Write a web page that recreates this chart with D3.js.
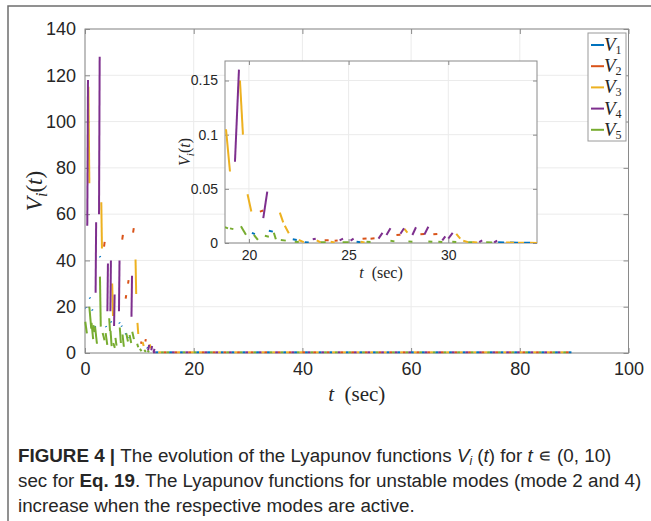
<!DOCTYPE html>
<html>
<head>
<meta charset="utf-8">
<script src="https://cdn.jsdelivr.net/npm/d3@7"></script>
<style>
body { margin: 0; background: #fff; }
svg { display: block; }
text { font-family: "Liberation Sans", Arial, Helvetica, sans-serif; fill: #262626; }
.tex { font-family: "Liberation Serif", "Times New Roman", serif; }
</style>
</head>
<body>
<svg id="fig" width="651" height="521"></svg>
<script>
// series names and tick values
var series = ['V1', 'V2', 'V3', 'V4', 'V5']
var xTicks = [0, 20, 40, 60, 80, 100]
var yTicks = [0, 20, 40, 60, 80, 100, 120, 140]
var insetXTicks = [20, 25, 30]
var insetYTicks = [0, 0.05, 0.1, 0.15]

// main plot: each segment is [t0, v0, t1, v1] while that mode is active
var v1Main = [[0.12, 19.6, 0.22, 19.4], [0.85, 24, 0.95, 23.6], [1.3, 18.8, 1.4, 18.4], [1.8, 11.6, 1.9, 11.2],
  [2.72, 41.8, 2.82, 41.4], [3.82, 11.6, 3.92, 11.2], [4.75, 13.6, 4.85, 13.2], [6.3, 13.2, 6.4, 12.8],
  [6.7, 11.8, 6.8, 11.4], [7.45, 8.5, 7.55, 8.1], [8.1, 7, 8.2, 6.6], [11.4, 2.4, 11.5, 2.1]]
var v2Main = [[3.5, 46, 3.62, 48], [6.85, 49, 6.97, 51], [7.48, 23.5, 7.58, 25], [7.92, 30, 8.02, 31.5],
  [8.85, 52, 8.97, 54], [11.1, 5, 11.2, 6], [10.3, 4, 10.4, 5]]
var v3Main = [[0.62, 115, 0.8, 73.3], [3.0, 65.1, 3.12, 45.2], [5.0, 30, 5.15, 16], [9.3, 40.4, 9.42, 25.5],
  [9.65, 13, 9.8, 8.2], [10.6, 4.8, 10.8, 3], [11.9, 3.8, 12.05, 2]]
var v4Main = [[0.42, 55, 0.55, 118], [1.95, 26, 2.05, 56.5], [2.58, 60, 2.7, 128], [4.12, 18, 4.22, 38.7],
  [4.67, 18, 4.77, 40], [5.35, 11.7, 5.45, 25.3], [6.25, 18, 6.35, 40], [8.55, 15.7, 8.65, 33.4],
  [11.6, 1, 11.8, 3.5], [12.2, 1.2, 12.35, 3], [12.6, 0.4, 12.8, 1.8]]
var v5Main = [[0.05, 13.5, 0.35, 8.5], [0.8, 20, 1.15, 10.5], [1.2, 13, 1.5, 6], [1.55, 12, 1.7, 9],
  [1.85, 11.4, 2.2, 4], [2.75, 33, 2.9, 11.4], [3.25, 8.6, 3.6, 5.5], [3.8, 8.6, 4.1, 3.5],
  [4.45, 15, 4.6, 9.5], [4.7, 9.6, 4.9, 3], [5.2, 4.3, 5.5, 2.2], [5.6, 6.5, 5.8, 3.2],
  [6.4, 11, 6.6, 4.3], [6.9, 8, 7.15, 2.7], [7.6, 8.5, 7.9, 5], [8.2, 7.8, 8.5, 4.3],
  [8.7, 9.2, 9.0, 6], [9.6, 4, 9.8, 2.5], [10.1, 1.8, 10.4, 0.8], [10.9, 1.3, 11.2, 0.5], [11.5, 1, 11.8, 0.4]]

// after ~12.5 s every V is ~0; active mode for each dwell, in order
var tailModes = '4135251423154235132415243125413251432514321534251324153214523145213542315243152431524312541325413251423514253142531425314235142513425143251432514325143521'
var tailStart = 12.5, tailEnd = 89.5

// inset (zoom of t = 18.8 .. 34.5)
var v1Inset = [[20.15, 0.0093, 20.3, 0.0082], [21.0, 0.0113, 21.2, 0.0105], [22.2, 0.0034, 22.4, 0.0028],
  [22.8, 0.0007, 23.0, 0.0005], [25.4, 0.0012, 25.6, 0.0008], [32.5, 0.0006, 32.8, 0.0004],
  [33.1, 0.0004, 33.5, 0.0003], [33.8, 0.0003, 34.1, 0.0002]]
var v2Inset = [[20.55, 0.029, 20.72, 0.030], [23.8, 0.0025, 24.0, 0.0026], [24.3, 0.002, 24.45, 0.0022],
  [25.7, 0.004, 25.9, 0.0042], [26.1, 0.004, 26.3, 0.0043], [27.4, 0.0074, 27.6, 0.0077],
  [28.6, 0.008, 28.8, 0.0083], [29.25, 0.008, 29.45, 0.0082]]
var v3Inset = [[18.85, 0.105, 19.05, 0.066], [19.55, 0.150, 19.7, 0.100], [19.93, 0.045, 20.12, 0.029],
  [21.55, 0.028, 21.72, 0.019], [21.8, 0.016, 22.0, 0.009], [22.5, 0.0028, 22.75, 0.0008],
  [23.4, 0.0025, 23.6, 0.0005], [24.1, 0.0012, 24.3, 0.0004], [25.6, 0.0012, 25.8, 0.0004],
  [27.8, 0.013, 27.95, 0.0095], [30.4, 0.0085, 30.6, 0.004], [30.75, 0.002, 31.0, 0.0008],
  [31.2, 0.001, 31.45, 0.0005], [32.9, 0.0004, 33.3, 0.0003], [33.5, 0.0003, 33.8, 0.0002],
  [34.1, 0.0002, 34.45, 0.0001]]
var v4Inset = [[19.3, 0.075, 19.5, 0.160], [20.72, 0.023, 20.92, 0.0475], [23.2, 0.0034, 23.35, 0.004],
  [24.55, 0.0024, 24.72, 0.004], [25.1, 0.0022, 25.25, 0.004], [26.5, 0.004, 26.7, 0.0093],
  [26.9, 0.0074, 27.1, 0.0136], [27.6, 0.0086, 27.78, 0.0136], [28.2, 0.0074, 28.38, 0.0145],
  [28.8, 0.0077, 29.0, 0.015], [29.7, 0.0025, 29.85, 0.0062], [30.0, 0.004, 30.22, 0.0093],
  [31.55, 0.0008, 31.7, 0.0025], [32.3, 0.0005, 32.45, 0.0022]]
var v5Inset = [[18.8, 0.0145, 18.95, 0.0135], [19.05, 0.0135, 19.22, 0.0128], [19.6, 0.0155, 19.85, 0.0077],
  [20.25, 0.0074, 20.45, 0.0028], [20.8, 0.0066, 21.0, 0.0058], [21.25, 0.0095, 21.35, 0.0034],
  [21.6, 0.0028, 21.85, 0.0022], [22.3, 0.0012, 22.5, 0.0009], [23.6, 0.0008, 23.85, 0.0006],
  [24.7, 0.0008, 25.0, 0.0006], [25.9, 0.0012, 26.1, 0.001], [27.1, 0.002, 27.3, 0.0015],
  [28.0, 0.0015, 28.2, 0.0012], [29.0, 0.0014, 29.2, 0.0011], [29.5, 0.0012, 29.7, 0.001],
  [30.2, 0.0012, 30.4, 0.001], [31.0, 0.0008, 31.2, 0.0006], [31.9, 0.0006, 32.2, 0.0005]]

var mainSegs = [v1Main, v2Main, v3Main, v4Main, v5Main]
var insetSegs = [v1Inset, v2Inset, v3Inset, v4Inset, v5Inset]
var colors = ['#0072bd', '#d95319', '#edb120', '#7e2f8e', '#77ac30']

var svg = d3.select('#fig')

// page frame (top + left edge of the scanned figure box)
svg.append('path').attr('d', 'M8,521V6H651').attr('fill', 'none').attr('stroke', '#6e6e6e').attr('stroke-width', 1.5)

function drawAxes(g, x, y, xt, yt, opt) {
  var [x0, x1] = x.range(), [y0, y1] = y.range()
  g.append('rect').attr('x', x0).attr('y', y1).attr('width', x1 - x0).attr('height', y0 - y1).attr('fill', '#fff')
  g.selectAll('line.gx').data(xt).join('line')
    .attr('x1', x).attr('x2', x).attr('y1', y0).attr('y2', y1).attr('stroke', '#ebebeb')
  g.selectAll('line.gy').data(yt).join('line')
    .attr('x1', x0).attr('x2', x1).attr('y1', y).attr('y2', y).attr('stroke', '#ebebeb')

  var ax = g.append('g')
  ax.append('g').attr('transform', `translate(0,${y0})`)
    .call(d3.axisBottom(x).tickValues(xt).tickSize(-opt.tick).tickPadding(opt.pad + opt.tick).tickSizeOuter(0))
  ax.append('g').attr('transform', `translate(0,${y1})`)
    .call(d3.axisTop(x).tickValues(xt).tickSize(-opt.tick).tickFormat('').tickSizeOuter(0))
  ax.append('g').attr('transform', `translate(${x0},0)`)
    .call(d3.axisLeft(y).tickValues(yt).tickSize(-opt.tick).tickPadding(opt.pad + opt.tick).tickSizeOuter(0)
      .tickFormat(opt.yfmt || (d => d)))
  ax.append('g').attr('transform', `translate(${x1},0)`)
    .call(d3.axisRight(y).tickValues(yt).tickSize(-opt.tick).tickFormat('').tickSizeOuter(0))
  ax.selectAll('.domain').remove()
  ax.selectAll('.tick line').attr('stroke', '#8a8a8a')
  ax.selectAll('.tick text').attr('font-size', opt.font).attr('fill', '#262626')
    .style('font-family', '"Liberation Sans", Arial, sans-serif')
  g.append('rect').attr('x', x0).attr('y', y1).attr('width', x1 - x0).attr('height', y0 - y1)
    .attr('fill', 'none').attr('stroke', '#8a8a8a').attr('stroke-width', 1)
}

function drawSegs(g, x, y, segs, width) {
  segs.forEach((list, k) => {
    g.selectAll('line.s' + k).data(list).join('line').attr('class', 's' + k)
      .attr('x1', d => x(d[0])).attr('y1', d => y(d[1]))
      .attr('x2', d => x(d[2])).attr('y2', d => y(d[3]))
      .attr('stroke', colors[k]).attr('stroke-width', width)
  })
}

// latex-ish label: V_i(t) or t (sec)
function vLabel(sel, size) {
  sel.append('tspan').text('V').attr('font-style', 'italic')
  sel.append('tspan').text('i').attr('font-style', 'italic').attr('font-size', size * 0.7).attr('dy', size * 0.22)
  sel.append('tspan').text('(').attr('dy', -size * 0.22)
  sel.append('tspan').text('t').attr('font-style', 'italic')
  sel.append('tspan').text(')')
}
function tLabel(sel) {
  sel.append('tspan').text('t').attr('font-style', 'italic')
  sel.append('tspan').text('\u2002(sec)')
}

// ---- main axes
var x = d3.scaleLinear().domain([0, 100]).range([85, 628.5])
var y = d3.scaleLinear().domain([0, 140]).range([353, 29])
var main = svg.append('g')
drawAxes(main, x, y, xTicks, yTicks, {tick: 5, pad: 4, font: 18})

drawSegs(main, x, y, mainSegs, 2)

var dwell = (tailEnd - tailStart) / tailModes.length
main.selectAll('line.tail').data(tailModes.split('')).join('line').attr('class', 'tail')
  .attr('x1', (d, i) => x(tailStart + i * dwell)).attr('x2', (d, i) => x(tailStart + (i + 1) * dwell))
  .attr('y1', y(0.3)).attr('y2', y(0.3))
  .attr('stroke', d => colors[+d - 1]).attr('stroke-width', 2)

main.append('text').attr('class', 'tex').attr('font-size', 23)
  .attr('transform', `translate(42,${(y.range()[0] + y.range()[1]) / 2}) rotate(-90)`)
  .attr('text-anchor', 'middle').call(s => vLabel(s, 23))
main.append('text').attr('class', 'tex').attr('font-size', 21)
  .attr('x', (x.range()[0] + x.range()[1]) / 2).attr('y', 401).attr('text-anchor', 'middle').call(tLabel)

// ---- inset axes
var xi = d3.scaleLinear().domain([18.8, 34.45]).range([225, 537])
var yi = d3.scaleLinear().domain([0, 0.168]).range([243, 61])
var inset = svg.append('g')
drawAxes(inset, xi, yi, insetXTicks, insetYTicks, {tick: 4, pad: 3, font: 14, yfmt: d => d})
svg.append('clipPath').attr('id', 'ic').append('rect')
  .attr('x', 225).attr('y', 61).attr('width', 312).attr('height', 182)
drawSegs(inset.append('g').attr('clip-path', 'url(#ic)'), xi, yi, insetSegs, 2)

inset.append('text').attr('class', 'tex').attr('font-size', 16)
  .attr('transform', `translate(190,${(yi.range()[0] + yi.range()[1]) / 2}) rotate(-90)`)
  .attr('text-anchor', 'middle').call(s => vLabel(s, 16))
inset.append('text').attr('class', 'tex').attr('font-size', 16)
  .attr('x', (xi.range()[0] + xi.range()[1]) / 2).attr('y', 278).attr('text-anchor', 'middle').call(tLabel)

// ---- legend
var lg = svg.append('g').attr('transform', 'translate(588,33)')
lg.append('rect').attr('width', 38).attr('height', 108).attr('fill', '#fff').attr('stroke', '#9a9a9a').attr('stroke-width', 1)
var items = lg.selectAll('g.it').data(series).join('g').attr('class', 'it')
  .attr('transform', (d, i) => `translate(0,${12 + i * 21.2})`)
items.append('line').attr('x1', 3).attr('x2', 16).attr('stroke', (d, i) => colors[i]).attr('stroke-width', 2)
items.append('text').attr('class', 'tex').attr('x', 16).attr('y', 6).attr('font-size', 19)
  .each(function (d) {
    var t = d3.select(this)
    t.append('tspan').text(d[0]).attr('font-style', 'italic')
    t.append('tspan').text(d.slice(1)).attr('font-size', 12).attr('dy', 3)
  })

// ---- caption
var cap = svg.append('g').attr('font-size', 18.8)
var lines = [
  [['FIGURE 4 | ', 'b'], ['The evolution of the Lyapunov functions '], ['V', 'i'], ['i', 'sub'], [' ('], ['t', 'i'], [') for '], ['t', 'i'], [' \u220a (0, 10)']],
  [['sec for '], ['Eq. 19', 'b'], ['. The Lyapunov functions for unstable modes (mode 2 and 4)']],
  [['increase when the respective modes are active.']]
]
var capY = [462, 487, 512]
lines.forEach((ln, i) => {
  var t = cap.append('text').attr('x', 18).attr('y', capY[i]).attr('fill', '#231f20')
  ln.forEach(p => {
    var s = t.append('tspan').text(p[0])
    if (p[1] == 'b') s.attr('font-weight', 'bold')
    if (p[1] == 'i') s.attr('font-style', 'italic')
    if (p[1] == 'sub') s.attr('font-style', 'italic').attr('font-size', 12).attr('baseline-shift', -3)
  })
})
</script>
</body>
</html>
